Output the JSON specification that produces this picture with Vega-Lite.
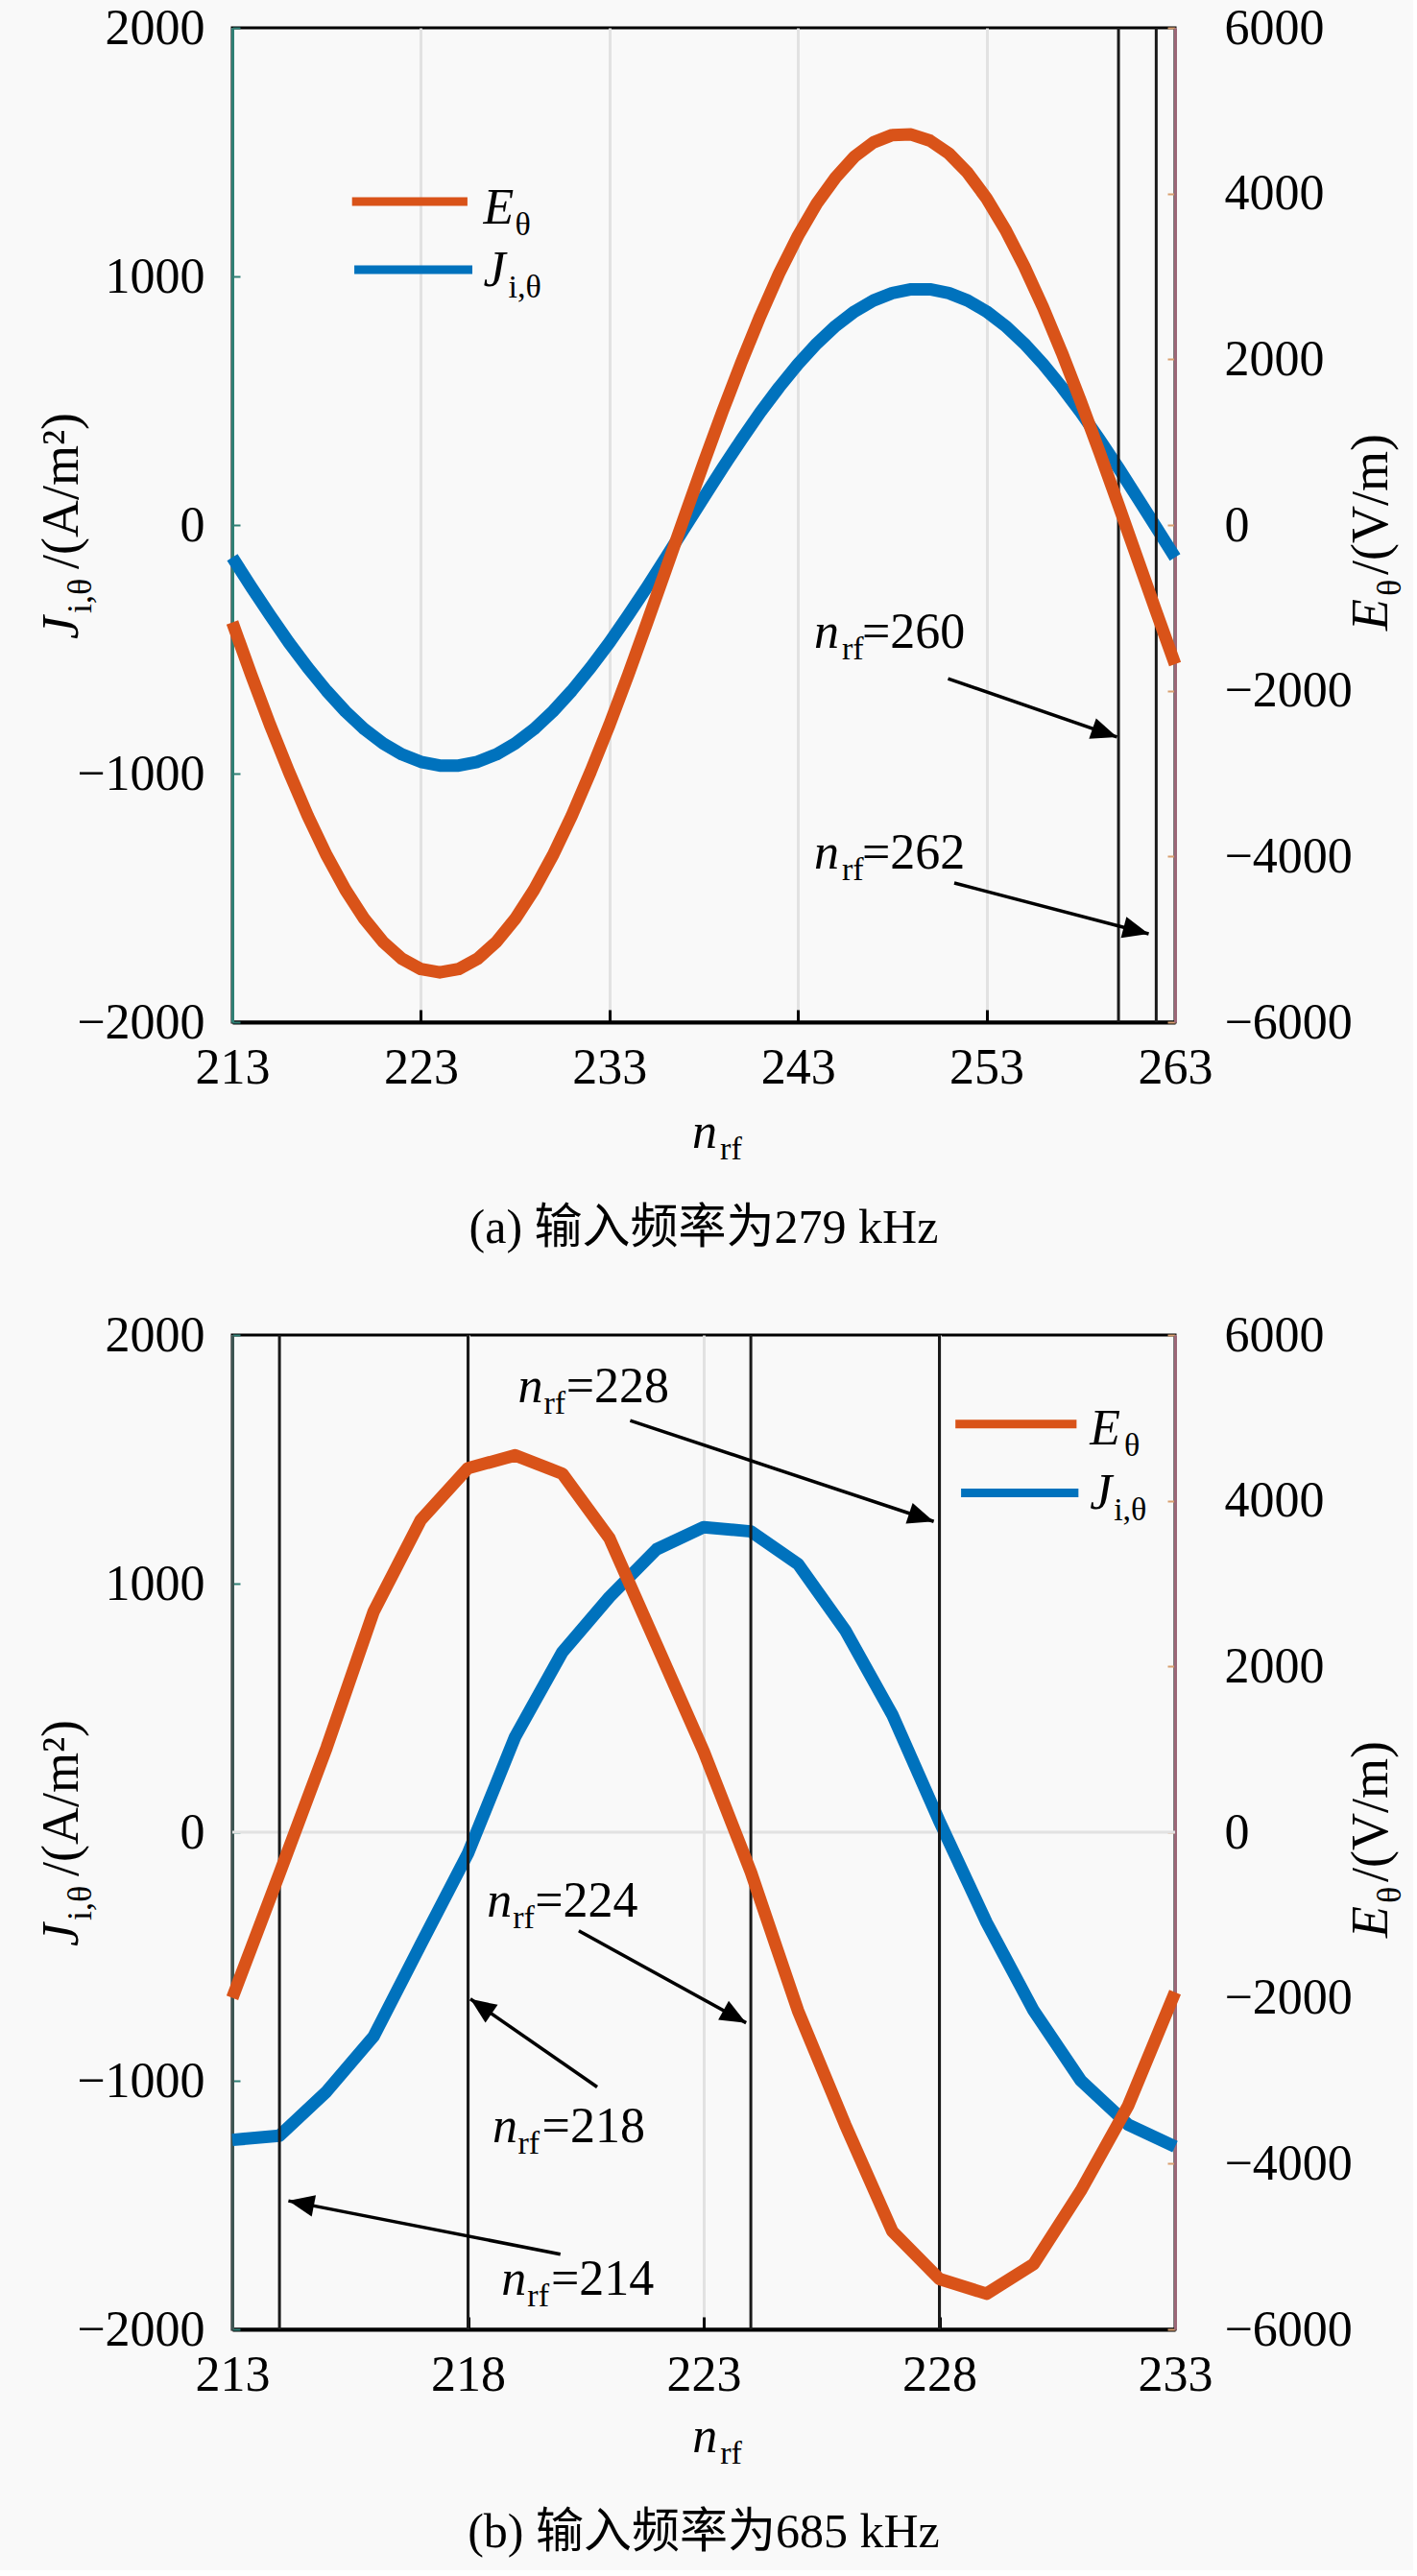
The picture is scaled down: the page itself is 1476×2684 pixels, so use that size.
{
  "$schema": "https://vega.github.io/schema/vega-lite/v6.json",
  "background": "#f9f9f9",
  "padding": {"left": 36, "top": 1, "right": 4, "bottom": 12},
  "spacing": 56,
  "config": {
    "view": {"stroke": "#000000", "strokeWidth": 3, "fill": "#f9f9f9"},
    "font": "Liberation Serif",
    "axis": {"labelFont": "Liberation Serif", "labelFontSize": 52, "labelColor": "#000000", "labelFlush": false, "labelOverlap": false, "format": "d"}
  },
  "datasets": {
    "curvesA": [
      {"n": 213, "J": -130, "E": -1176}, {"n": 214, "J": -249, "E": -1806}, {"n": 215, "J": -363, "E": -2412},
      {"n": 216, "J": -473, "E": -2979}, {"n": 217, "J": -574, "E": -3509}, {"n": 218, "J": -667, "E": -3987},
      {"n": 219, "J": -750, "E": -4403}, {"n": 220, "J": -821, "E": -4754}, {"n": 221, "J": -879, "E": -5033},
      {"n": 222, "J": -923, "E": -5236}, {"n": 223, "J": -953, "E": -5359}, {"n": 224, "J": -968, "E": -5400},
      {"n": 225, "J": -968, "E": -5359}, {"n": 226, "J": -953, "E": -5236}, {"n": 227, "J": -923, "E": -5033},
      {"n": 228, "J": -879, "E": -4754}, {"n": 229, "J": -821, "E": -4403}, {"n": 230, "J": -750, "E": -3987},
      {"n": 231, "J": -667, "E": -3509}, {"n": 232, "J": -574, "E": -2979}, {"n": 233, "J": -473, "E": -2412},
      {"n": 234, "J": -363, "E": -1806}, {"n": 235, "J": -249, "E": -1176}, {"n": 236, "J": -130, "E": -534},
      {"n": 237, "J": -10, "E": 112}, {"n": 238, "J": 110, "E": 750}, {"n": 239, "J": 229, "E": 1371},
      {"n": 240, "J": 343, "E": 1963}, {"n": 241, "J": 453, "E": 2522}, {"n": 242, "J": 554, "E": 3036},
      {"n": 243, "J": 647, "E": 3489}, {"n": 244, "J": 730, "E": 3880}, {"n": 245, "J": 801, "E": 4195},
      {"n": 246, "J": 859, "E": 4446}, {"n": 247, "J": 903, "E": 4617}, {"n": 248, "J": 933, "E": 4707},
      {"n": 249, "J": 948, "E": 4713}, {"n": 250, "J": 948, "E": 4639}, {"n": 251, "J": 933, "E": 4484},
      {"n": 252, "J": 903, "E": 4250}, {"n": 253, "J": 859, "E": 3942}, {"n": 254, "J": 801, "E": 3564},
      {"n": 255, "J": 730, "E": 3122}, {"n": 256, "J": 647, "E": 2625}, {"n": 257, "J": 554, "E": 2077},
      {"n": 258, "J": 453, "E": 1491}, {"n": 259, "J": 343, "E": 874}, {"n": 260, "J": 229, "E": 240},
      {"n": 261, "J": 110, "E": -404}, {"n": 262, "J": -10, "E": -1047}, {"n": 263, "J": -130, "E": -1680}
    ],
    "curvesB": [
      {"n": 213, "J": -1238, "E": -2000}, {"n": 214, "J": -1221, "E": -500}, {"n": 215, "J": -1043, "E": 1020},
      {"n": 216, "J": -821, "E": 2665}, {"n": 217, "J": -451, "E": 3770}, {"n": 218, "J": -85, "E": 4393},
      {"n": 219, "J": 384, "E": 4548}, {"n": 220, "J": 724, "E": 4327}, {"n": 221, "J": 946, "E": 3549},
      {"n": 222, "J": 1138, "E": 2262}, {"n": 223, "J": 1227, "E": 975}, {"n": 224, "J": 1210, "E": -480},
      {"n": 225, "J": 1079, "E": -2154}, {"n": 226, "J": 813, "E": -3528}, {"n": 227, "J": 473, "E": -4815},
      {"n": 228, "J": 44, "E": -5392}, {"n": 229, "J": -363, "E": -5570}, {"n": 230, "J": -718, "E": -5213},
      {"n": 231, "J": -999, "E": -4327}, {"n": 232, "J": -1176, "E": -3306}, {"n": 233, "J": -1265, "E": -1931}
    ],
    "vA": [{"n": 260}, {"n": 262}],
    "vB": [{"n": 214}, {"n": 218}, {"n": 224}, {"n": 228}],
    "legA": [
      {"s": "E", "n1": 219.35, "n2": 225.47, "J": 1301},
      {"s": "J", "n1": 219.47, "n2": 225.73, "J": 1027}
    ],
    "legB": [
      {"s": "E", "n1": 228.34, "n2": 230.91, "J": 1642},
      {"s": "J", "n1": 228.46, "n2": 230.95, "J": 1365}
    ],
    "arrA": [
      {"n1": 250.96, "J1": -618, "n2": 259.92, "J2": -853, "dir": 19.1},
      {"n1": 251.29, "J1": -1440, "n2": 261.6, "J2": -1645, "dir": 14.7}
    ],
    "arrB": [
      {"n1": 221.44, "J1": 1656, "n2": 227.88, "J2": 1250, "dir": 18.4},
      {"n1": 220.35, "J1": -397, "n2": 223.9, "J2": -767, "dir": 28.8},
      {"n1": 220.74, "J1": -1025, "n2": 218.05, "J2": -671, "dir": 214.8},
      {"n1": 219.96, "J1": -1698, "n2": 214.19, "J2": -1483, "dir": 191.1}
    ],
    "labA": [
      {"n": 243.86, "J": -494, "t": "n", "k": "it"},
      {"n": 245.33, "J": -494, "t": "rf", "k": "sub"},
      {"n": 246.4, "J": -494, "t": "=260", "k": "up"},
      {"n": 243.86, "J": -1382, "t": "n", "k": "it"},
      {"n": 245.33, "J": -1382, "t": "rf", "k": "sub"},
      {"n": 246.4, "J": -1382, "t": "=262", "k": "up"},
      {"n": 226.32, "J": 1212, "t": "E", "k": "it"},
      {"n": 227.99, "J": 1212, "t": "θ", "k": "sub"},
      {"n": 226.32, "J": 961, "t": "J", "k": "it"},
      {"n": 227.64, "J": 961, "t": "i,θ", "k": "sub"},
      {"n": 237.39, "J": -2506, "t": "n", "k": "it"},
      {"n": 238.87, "J": -2506, "t": "rf", "k": "sub"},
      {"n": 204.8, "J": -459, "t": "J", "k": "vit"},
      {"n": 204.8, "J": -355, "t": "i,θ", "k": "vsub"},
      {"n": 204.8, "J": -178, "t": "/(A/m²)", "k": "vup"},
      {"n": 274.25, "J": -425, "t": "E", "k": "vit"},
      {"n": 274.25, "J": -286, "t": "θ", "k": "vsub"},
      {"n": 274.25, "J": -201, "t": "/(V/m)", "k": "vup"}
    ],
    "labB": [
      {"n": 219.06, "J": 1730, "t": "n", "k": "it"},
      {"n": 219.61, "J": 1730, "t": "rf", "k": "sub"},
      {"n": 220.08, "J": 1730, "t": "=228", "k": "up"},
      {"n": 218.4, "J": -338, "t": "n", "k": "it"},
      {"n": 218.95, "J": -338, "t": "rf", "k": "sub"},
      {"n": 219.42, "J": -338, "t": "=224", "k": "up"},
      {"n": 218.52, "J": -1247, "t": "n", "k": "it"},
      {"n": 219.06, "J": -1247, "t": "rf", "k": "sub"},
      {"n": 219.57, "J": -1247, "t": "=218", "k": "up"},
      {"n": 218.71, "J": -1860, "t": "n", "k": "it"},
      {"n": 219.26, "J": -1860, "t": "rf", "k": "sub"},
      {"n": 219.76, "J": -1860, "t": "=214", "k": "up"},
      {"n": 231.19, "J": 1560, "t": "E", "k": "it"},
      {"n": 231.92, "J": 1560, "t": "θ", "k": "sub"},
      {"n": 231.19, "J": 1302, "t": "J", "k": "it"},
      {"n": 231.7, "J": 1302, "t": "i,θ", "k": "sub"},
      {"n": 222.76, "J": -2495, "t": "n", "k": "it"},
      {"n": 223.35, "J": -2495, "t": "rf", "k": "sub"},
      {"n": 209.72, "J": -459, "t": "J", "k": "vit"},
      {"n": 209.72, "J": -355, "t": "i,θ", "k": "vsub"},
      {"n": 209.72, "J": -178, "t": "/(A/m²)", "k": "vup"},
      {"n": 237.5, "J": -425, "t": "E", "k": "vit"},
      {"n": 237.5, "J": -286, "t": "θ", "k": "vsub"},
      {"n": 237.5, "J": -201, "t": "/(V/m)", "k": "vup"}
    ]
  },
  "vconcat": [
    {
      "width": 982,
      "height": 1036,
      "title": {"text": "(a) 输入频率为279 kHz", "orient": "bottom", "anchor": "middle", "frame": "group", "font": "Liberation Serif, Noto Sans CJK SC", "fontSize": 50, "fontWeight": "normal", "color": "#000000", "offset": 40},
      "resolve": {"scale": {"y": "independent"}},
      "layer": [
        {
          "layer": [
            {
              "data": {"name": "curvesA"},
              "mark": {"type": "line", "color": "#0072BD", "strokeWidth": 13, "strokeJoin": "round"},
              "encoding": {
                "x": {"field": "n", "type": "quantitative", "scale": {"domain": [213, 263], "nice": false, "zero": false},
                  "axis": {"values": [213, 223, 233, 243, 253, 263], "title": null, "grid": true, "gridColor": "#e2e2e2", "gridWidth": 3, "domainColor": "#000000", "domainWidth": 4, "tickColor": "#000000", "tickWidth": 3, "tickSize": -13, "labelPadding": 35}},
                "y": {"field": "J", "type": "quantitative", "scale": {"domain": [-2000, 2000], "nice": false, "zero": false},
                  "axis": {"orient": "left", "values": [-2000, -1000, 0, 1000, 2000], "title": null, "grid": false, "domainColor": "#2f7f74", "domainWidth": 3, "tickColor": "#2f7f74", "tickWidth": 2, "tickSize": -8, "labelPadding": 37}}
              }
            },
            {
              "data": {"name": "vA"},
              "mark": {"type": "rule", "color": "#1a1a1a", "strokeWidth": 3},
              "encoding": {"x": {"field": "n", "type": "quantitative"}}
            },
            {
              "data": {"name": "legA"},
              "mark": {"type": "rule", "strokeWidth": 9},
              "encoding": {
                "x": {"field": "n1", "type": "quantitative"},
                "x2": {"field": "n2"},
                "y": {"field": "J", "type": "quantitative"},
                "color": {"field": "s", "type": "nominal", "scale": {"domain": ["E", "J"], "range": ["#D95319", "#0072BD"]}, "legend": null}
              }
            },
            {
              "data": {"name": "arrA"},
              "mark": {"type": "rule", "color": "#000000", "strokeWidth": 3.5},
              "encoding": {
                "x": {"field": "n1", "type": "quantitative"},
                "y": {"field": "J1", "type": "quantitative"},
                "x2": {"field": "n2"},
                "y2": {"field": "J2"}
              }
            },
            {
              "data": {"name": "arrA"},
              "mark": {"type": "point", "shape": "M0,0L-1,-0.42L-1,0.42Z", "filled": true, "color": "#000000", "opacity": 1, "size": 2900},
              "encoding": {
                "x": {"field": "n2", "type": "quantitative"},
                "y": {"field": "J2", "type": "quantitative"},
                "angle": {"field": "dir", "type": "quantitative", "scale": null}
              }
            },
            {
              "data": {"name": "labA"},
              "transform": [{"filter": "datum.k == 'it'"}],
              "mark": {"type": "text", "align": "left", "baseline": "alphabetic", "fontStyle": "italic", "fontSize": 52, "font": "Liberation Serif", "color": "#000000"},
              "encoding": {"x": {"field": "n", "type": "quantitative"}, "y": {"field": "J", "type": "quantitative"}, "text": {"field": "t"}}
            },
            {
              "data": {"name": "labA"},
              "transform": [{"filter": "datum.k == 'sub'"}],
              "mark": {"type": "text", "align": "left", "baseline": "alphabetic", "fontSize": 34, "dy": 12, "font": "Liberation Serif", "color": "#000000"},
              "encoding": {"x": {"field": "n", "type": "quantitative"}, "y": {"field": "J", "type": "quantitative"}, "text": {"field": "t"}}
            },
            {
              "data": {"name": "labA"},
              "transform": [{"filter": "datum.k == 'up'"}],
              "mark": {"type": "text", "align": "left", "baseline": "alphabetic", "fontSize": 52, "font": "Liberation Serif", "color": "#000000"},
              "encoding": {"x": {"field": "n", "type": "quantitative"}, "y": {"field": "J", "type": "quantitative"}, "text": {"field": "t"}}
            },
            {
              "data": {"name": "labA"},
              "transform": [{"filter": "datum.k == 'vit'"}],
              "mark": {"type": "text", "angle": 270, "align": "left", "baseline": "alphabetic", "fontStyle": "italic", "fontSize": 54, "font": "Liberation Serif", "color": "#000000"},
              "encoding": {"x": {"field": "n", "type": "quantitative"}, "y": {"field": "J", "type": "quantitative"}, "text": {"field": "t"}}
            },
            {
              "data": {"name": "labA"},
              "transform": [{"filter": "datum.k == 'vsub'"}],
              "mark": {"type": "text", "angle": 270, "align": "left", "baseline": "alphabetic", "fontSize": 36, "dy": 14, "font": "Liberation Serif", "color": "#000000"},
              "encoding": {"x": {"field": "n", "type": "quantitative"}, "y": {"field": "J", "type": "quantitative"}, "text": {"field": "t"}}
            },
            {
              "data": {"name": "labA"},
              "transform": [{"filter": "datum.k == 'vup'"}],
              "mark": {"type": "text", "angle": 270, "align": "left", "baseline": "alphabetic", "fontSize": 54, "font": "Liberation Serif", "color": "#000000"},
              "encoding": {"x": {"field": "n", "type": "quantitative"}, "y": {"field": "J", "type": "quantitative"}, "text": {"field": "t"}}
            }
          ]
        },
        {
          "data": {"name": "curvesA"},
          "mark": {"type": "line", "color": "#D95319", "strokeWidth": 13, "strokeJoin": "round"},
          "encoding": {
            "x": {"field": "n", "type": "quantitative", "scale": {"domain": [213, 263], "nice": false, "zero": false}},
            "y": {"field": "E", "type": "quantitative", "scale": {"domain": [-6000, 6000], "nice": false, "zero": false},
              "axis": {"orient": "right", "values": [-6000, -4000, -2000, 0, 2000, 4000, 6000], "title": null, "grid": false, "domainColor": "#9c6777", "domainWidth": 3, "tickColor": "#d9a070", "tickWidth": 2, "tickSize": -8, "labelPadding": 59}}
          }
        }
      ]
    },
    {
      "width": 982,
      "height": 1036,
      "title": {"text": "(b) 输入频率为685 kHz", "orient": "bottom", "anchor": "middle", "frame": "group", "font": "Liberation Serif, Noto Sans CJK SC", "fontSize": 50, "fontWeight": "normal", "color": "#000000", "offset": 40},
      "resolve": {"scale": {"y": "independent"}},
      "layer": [
        {
          "layer": [
            {
              "data": {"values": [{}]},
              "mark": {"type": "rule", "color": "#e2e2e2", "strokeWidth": 3},
              "encoding": {"y": {"datum": 0, "type": "quantitative"}}
            },
            {
              "data": {"name": "curvesB"},
              "mark": {"type": "line", "color": "#0072BD", "strokeWidth": 13, "strokeJoin": "round"},
              "encoding": {
                "x": {"field": "n", "type": "quantitative", "scale": {"domain": [213, 233], "nice": false, "zero": false},
                  "axis": {"values": [213, 218, 223, 228, 233], "title": null, "grid": true, "gridColor": "#e2e2e2", "gridWidth": 3, "domainColor": "#000000", "domainWidth": 4, "tickColor": "#000000", "tickWidth": 3, "tickSize": -13, "labelPadding": 35}},
                "y": {"field": "J", "type": "quantitative", "scale": {"domain": [-2000, 2000], "nice": false, "zero": false},
                  "axis": {"orient": "left", "values": [-2000, -1000, 0, 1000, 2000], "title": null, "grid": false, "domainColor": "#3d5552", "domainWidth": 3, "tickColor": "#2f7f74", "tickWidth": 2, "tickSize": -8, "labelPadding": 37}}
              }
            },
            {
              "data": {"name": "vB"},
              "mark": {"type": "rule", "color": "#1a1a1a", "strokeWidth": 3},
              "encoding": {"x": {"field": "n", "type": "quantitative"}}
            },
            {
              "data": {"name": "legB"},
              "mark": {"type": "rule", "strokeWidth": 9},
              "encoding": {
                "x": {"field": "n1", "type": "quantitative"},
                "x2": {"field": "n2"},
                "y": {"field": "J", "type": "quantitative"},
                "color": {"field": "s", "type": "nominal", "scale": {"domain": ["E", "J"], "range": ["#D95319", "#0072BD"]}, "legend": null}
              }
            },
            {
              "data": {"name": "arrB"},
              "mark": {"type": "rule", "color": "#000000", "strokeWidth": 3.5},
              "encoding": {
                "x": {"field": "n1", "type": "quantitative"},
                "y": {"field": "J1", "type": "quantitative"},
                "x2": {"field": "n2"},
                "y2": {"field": "J2"}
              }
            },
            {
              "data": {"name": "arrB"},
              "mark": {"type": "point", "shape": "M0,0L-1,-0.42L-1,0.42Z", "filled": true, "color": "#000000", "opacity": 1, "size": 2900},
              "encoding": {
                "x": {"field": "n2", "type": "quantitative"},
                "y": {"field": "J2", "type": "quantitative"},
                "angle": {"field": "dir", "type": "quantitative", "scale": null}
              }
            },
            {
              "data": {"name": "labB"},
              "transform": [{"filter": "datum.k == 'it'"}],
              "mark": {"type": "text", "align": "left", "baseline": "alphabetic", "fontStyle": "italic", "fontSize": 52, "font": "Liberation Serif", "color": "#000000"},
              "encoding": {"x": {"field": "n", "type": "quantitative"}, "y": {"field": "J", "type": "quantitative"}, "text": {"field": "t"}}
            },
            {
              "data": {"name": "labB"},
              "transform": [{"filter": "datum.k == 'sub'"}],
              "mark": {"type": "text", "align": "left", "baseline": "alphabetic", "fontSize": 34, "dy": 12, "font": "Liberation Serif", "color": "#000000"},
              "encoding": {"x": {"field": "n", "type": "quantitative"}, "y": {"field": "J", "type": "quantitative"}, "text": {"field": "t"}}
            },
            {
              "data": {"name": "labB"},
              "transform": [{"filter": "datum.k == 'up'"}],
              "mark": {"type": "text", "align": "left", "baseline": "alphabetic", "fontSize": 52, "font": "Liberation Serif", "color": "#000000"},
              "encoding": {"x": {"field": "n", "type": "quantitative"}, "y": {"field": "J", "type": "quantitative"}, "text": {"field": "t"}}
            },
            {
              "data": {"name": "labB"},
              "transform": [{"filter": "datum.k == 'vit'"}],
              "mark": {"type": "text", "angle": 270, "align": "left", "baseline": "alphabetic", "fontStyle": "italic", "fontSize": 54, "font": "Liberation Serif", "color": "#000000"},
              "encoding": {"x": {"field": "n", "type": "quantitative"}, "y": {"field": "J", "type": "quantitative"}, "text": {"field": "t"}}
            },
            {
              "data": {"name": "labB"},
              "transform": [{"filter": "datum.k == 'vsub'"}],
              "mark": {"type": "text", "angle": 270, "align": "left", "baseline": "alphabetic", "fontSize": 36, "dy": 14, "font": "Liberation Serif", "color": "#000000"},
              "encoding": {"x": {"field": "n", "type": "quantitative"}, "y": {"field": "J", "type": "quantitative"}, "text": {"field": "t"}}
            },
            {
              "data": {"name": "labB"},
              "transform": [{"filter": "datum.k == 'vup'"}],
              "mark": {"type": "text", "angle": 270, "align": "left", "baseline": "alphabetic", "fontSize": 54, "font": "Liberation Serif", "color": "#000000"},
              "encoding": {"x": {"field": "n", "type": "quantitative"}, "y": {"field": "J", "type": "quantitative"}, "text": {"field": "t"}}
            }
          ]
        },
        {
          "data": {"name": "curvesB"},
          "mark": {"type": "line", "color": "#D95319", "strokeWidth": 13, "strokeJoin": "round"},
          "encoding": {
            "x": {"field": "n", "type": "quantitative", "scale": {"domain": [213, 233], "nice": false, "zero": false}},
            "y": {"field": "E", "type": "quantitative", "scale": {"domain": [-6000, 6000], "nice": false, "zero": false},
              "axis": {"orient": "right", "values": [-6000, -4000, -2000, 0, 2000, 4000, 6000], "title": null, "grid": false, "domainColor": "#9c6777", "domainWidth": 3, "tickColor": "#d9a070", "tickWidth": 2, "tickSize": -8, "labelPadding": 59}}
          }
        }
      ]
    }
  ]
}
